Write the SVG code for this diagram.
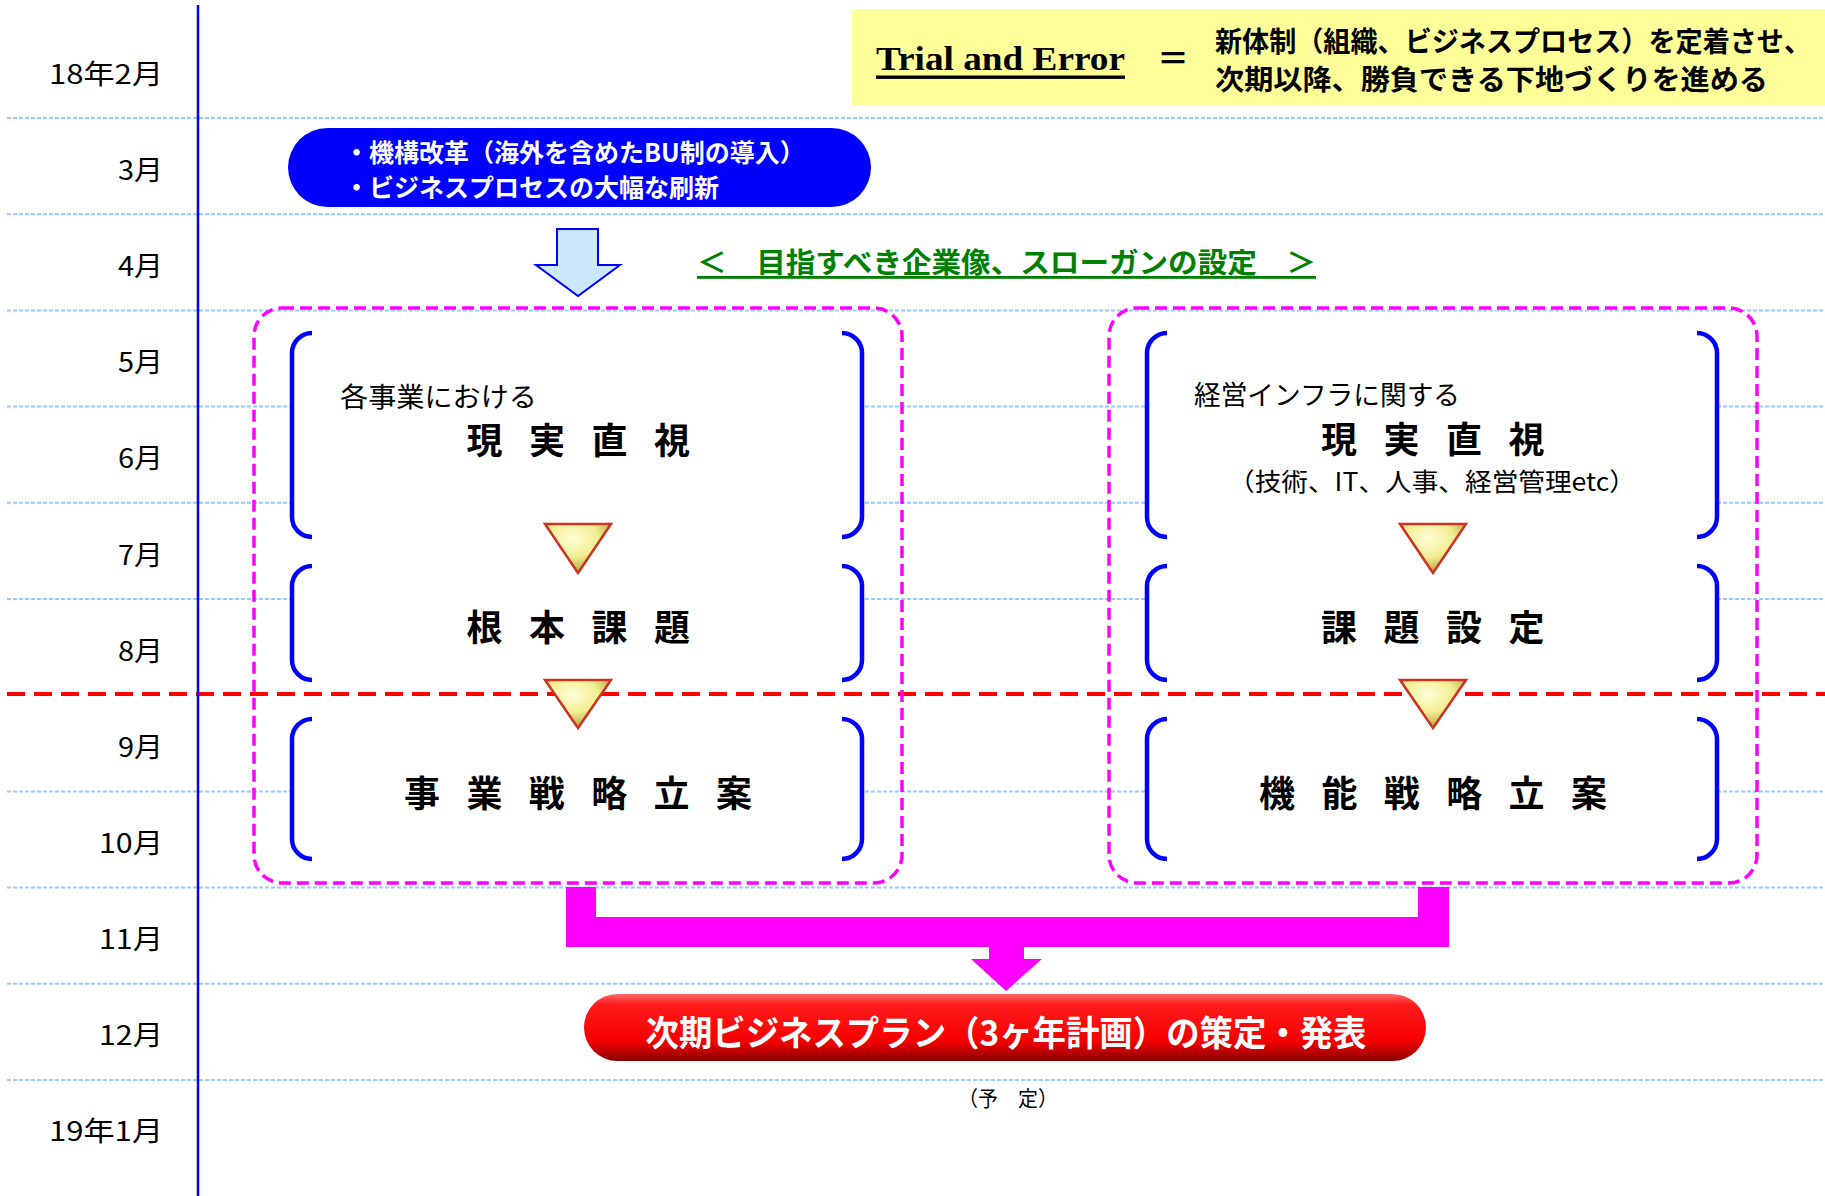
<svg xmlns="http://www.w3.org/2000/svg" width="1825" height="1196" viewBox="0 0 1825 1196">
<defs>
<style>
.grid{stroke:#99c9f4;stroke-width:2;stroke-dasharray:4 2;fill:none}
.month{font-family:"Noto Sans CJK JP",sans-serif;font-size:27px;fill:#000;text-anchor:end;dominant-baseline:central}
.jp{font-family:"Noto Sans CJK JP",sans-serif;dominant-baseline:central}
.big{font-family:"Noto Sans CJK JP",sans-serif;font-size:36px;font-weight:700;fill:#000;text-anchor:middle;dominant-baseline:central}
.panel{fill:none;stroke:#ff00ff;stroke-width:3.5;stroke-dasharray:12 6}
.bracket{fill:none;stroke:#0000ff;stroke-width:4.5}
.inner{fill:#fff;stroke:none}
.tri{fill:url(#triGrad);stroke:#cc3322;stroke-width:2.5;stroke-linejoin:miter}
</style>
<radialGradient id="triGrad" cx="0.42" cy="0.3" r="0.75">
<stop offset="0" stop-color="#ffffd8"/>
<stop offset="0.5" stop-color="#f2ee92"/>
<stop offset="1" stop-color="#a89a30"/>
</radialGradient>
<linearGradient id="redGrad" x1="0" y1="0" x2="0" y2="1">
<stop offset="0" stop-color="#ff6a6a"/>
<stop offset="0.15" stop-color="#ff1c1c"/>
<stop offset="0.7" stop-color="#f50000"/>
<stop offset="1" stop-color="#8a0000"/>
</linearGradient>
</defs>
<rect width="1825" height="1196" fill="#fff"/>

<g id="grid">
<line class="grid" x1="7" y1="118" x2="1825" y2="118"/>
<line class="grid" x1="7" y1="214.2" x2="1825" y2="214.2"/>
<line class="grid" x1="7" y1="310.4" x2="1825" y2="310.4"/>
<line class="grid" x1="7" y1="406.6" x2="1825" y2="406.6"/>
<line class="grid" x1="7" y1="502.8" x2="1825" y2="502.8"/>
<line class="grid" x1="7" y1="599" x2="1825" y2="599"/>
<line class="grid" x1="7" y1="791.4" x2="1825" y2="791.4"/>
<line class="grid" x1="7" y1="887.6" x2="1825" y2="887.6"/>
<line class="grid" x1="7" y1="983.8" x2="1825" y2="983.8"/>
<line class="grid" x1="7" y1="1080" x2="1825" y2="1080"/>
<line x1="7" y1="694" x2="1825" y2="694" stroke="#ff0000" stroke-width="4" stroke-dasharray="18 9"/>
<line x1="198" y1="5" x2="198" y2="1196" stroke="#0000ff" stroke-width="2.5"/>
</g>

<g id="months">
<text class="month" x="163" y="72" textLength="114" lengthAdjust="spacingAndGlyphs">18年2月</text>
<text class="month" x="163" y="168" textLength="45" lengthAdjust="spacingAndGlyphs">3月</text>
<text class="month" x="163" y="264" textLength="45" lengthAdjust="spacingAndGlyphs">4月</text>
<text class="month" x="163" y="360" textLength="45" lengthAdjust="spacingAndGlyphs">5月</text>
<text class="month" x="163" y="456" textLength="45" lengthAdjust="spacingAndGlyphs">6月</text>
<text class="month" x="163" y="553" textLength="45" lengthAdjust="spacingAndGlyphs">7月</text>
<text class="month" x="163" y="649" textLength="45" lengthAdjust="spacingAndGlyphs">8月</text>
<text class="month" x="163" y="745" textLength="45" lengthAdjust="spacingAndGlyphs">9月</text>
<text class="month" x="163" y="841" textLength="64" lengthAdjust="spacingAndGlyphs">10月</text>
<text class="month" x="163" y="937" textLength="64" lengthAdjust="spacingAndGlyphs">11月</text>
<text class="month" x="163" y="1033" textLength="64" lengthAdjust="spacingAndGlyphs">12月</text>
<text class="month" x="163" y="1129" textLength="114" lengthAdjust="spacingAndGlyphs">19年1月</text>
</g>

<g id="header">
<rect x="852" y="9" width="973" height="96" fill="#ffff99"/>
<text x="876" y="58" font-family="'Liberation Serif',serif" font-size="34" font-weight="700" text-decoration="underline" textLength="249" lengthAdjust="spacingAndGlyphs" dominant-baseline="central">Trial and Error</text>
<text class="jp" x="1173" y="56" font-size="32" font-weight="700" text-anchor="middle">＝</text>
<text class="jp" x="1215" y="40" font-size="28" font-weight="700" textLength="596" lengthAdjust="spacingAndGlyphs">新体制（組織、ビジネスプロセス）を定着させ、</text>
<text class="jp" x="1215" y="78" font-size="28" font-weight="700" textLength="553" lengthAdjust="spacingAndGlyphs">次期以降、勝負できる下地づくりを進める</text>
</g>

<g id="reform">
<rect x="288" y="128" width="583" height="79" rx="39.5" fill="#0000ff"/>
<text class="jp" x="344" y="151" font-size="25" font-weight="700" fill="#fff">・機構改革（海外を含めたBU制の導入）</text>
<text class="jp" x="344" y="186" font-size="25" font-weight="700" fill="#fff">・ビジネスプロセスの大幅な刷新</text>
</g>

<g id="down-arrow">
<polygon points="557,229 598,229 598,265 620,265 578,296 536,265 557,265" fill="#cce8ff" stroke="#0000ff" stroke-width="2"/>
</g>

<g id="slogan">
<text class="jp" x="697" y="261" font-size="28" font-weight="700" fill="#008000" text-decoration="underline" textLength="619" lengthAdjust="spacingAndGlyphs">＜　目指すべき企業像、スローガンの設定　＞</text>
</g>

<g id="left-panel">
<rect class="panel" x="254" y="308" width="648" height="575" rx="28"/>
<g id="left-reality">
<rect class="inner" x="292" y="333" width="570" height="204"/>
<path class="bracket" d="M312,333 A20,20 0 0 0 292,353 V517 A20,20 0 0 0 312,537 M842,333 A20,20 0 0 1 862,353 V517 A20,20 0 0 1 842,537"/>
<text class="jp" x="340" y="395" font-size="27" textLength="197" lengthAdjust="spacingAndGlyphs">各事業における</text>
<text class="big" x="484.5 547 609.5 672" y="438">現実直視</text>
</g>
<g id="left-issue">
<rect class="inner" x="292" y="566" width="570" height="114"/>
<path class="bracket" d="M312,566 A20,20 0 0 0 292,586 V660 A20,20 0 0 0 312,680 M842,566 A20,20 0 0 1 862,586 V660 A20,20 0 0 1 842,680"/>
<text class="big" x="484.5 547 609.5 672" y="625">根本課題</text>
</g>
<g id="left-strategy">
<rect class="inner" x="292" y="719" width="570" height="140"/>
<path class="bracket" d="M312,719 A20,20 0 0 0 292,739 V839 A20,20 0 0 0 312,859 M842,719 A20,20 0 0 1 862,739 V839 A20,20 0 0 1 842,859"/>
<text class="big" x="422 484.4 546.8 609.2 671.6 734" y="791">事業戦略立案</text>
</g>
<polygon class="tri" points="545,524 611,524 578,573"/>
<polygon class="tri" points="545,680 611,680 578,728"/>
</g>

<g id="right-panel">
<rect class="panel" x="1109" y="308" width="648" height="575" rx="28"/>
<g id="right-reality">
<rect class="inner" x="1147" y="333" width="570" height="204"/>
<path class="bracket" d="M1167,333 A20,20 0 0 0 1147,353 V517 A20,20 0 0 0 1167,537 M1697,333 A20,20 0 0 1 1717,353 V517 A20,20 0 0 1 1697,537"/>
<text class="jp" x="1194" y="393" font-size="27" textLength="266" lengthAdjust="spacingAndGlyphs">経営インフラに関する</text>
<text class="big" x="1339 1401.5 1464 1526.5" y="437">現実直視</text>
<text class="jp" x="1432" y="480" font-size="25" text-anchor="middle" textLength="408" lengthAdjust="spacingAndGlyphs">（技術、IT、人事、経営管理etc）</text>
</g>
<g id="right-issue">
<rect class="inner" x="1147" y="566" width="570" height="114"/>
<path class="bracket" d="M1167,566 A20,20 0 0 0 1147,586 V660 A20,20 0 0 0 1167,680 M1697,566 A20,20 0 0 1 1717,586 V660 A20,20 0 0 1 1697,680"/>
<text class="big" x="1339 1401.5 1464 1526.5" y="625">課題設定</text>
</g>
<g id="right-strategy">
<rect class="inner" x="1147" y="719" width="570" height="140"/>
<path class="bracket" d="M1167,719 A20,20 0 0 0 1147,739 V839 A20,20 0 0 0 1167,859 M1697,719 A20,20 0 0 1 1717,739 V839 A20,20 0 0 1 1697,859"/>
<text class="big" x="1277 1339.4 1401.8 1464.2 1526.6 1589" y="791">機能戦略立案</text>
</g>
<polygon class="tri" points="1400,524 1466,524 1433,573"/>
<polygon class="tri" points="1400,680 1466,680 1433,728"/>
</g>

<g id="connectors">
<path d="M566,887 H596 V917 H1418 V887 H1449 V947 H1024 V959 H1042 L1006,991 L971,959 H989 V947 H566 Z" fill="#ff00ff"/>
</g>

<g id="plan">
<rect x="584" y="994" width="842" height="67" rx="33.5" fill="url(#redGrad)"/>
<text class="jp" x="1006" y="1030" font-size="35" font-weight="700" fill="#fff" text-anchor="middle" textLength="721" lengthAdjust="spacingAndGlyphs">次期ビジネスプラン（3ヶ年計画）の策定・発表</text>
</g>

<g id="note">
<text class="jp" x="1008" y="1097" font-size="21" text-anchor="middle" textLength="100" lengthAdjust="spacingAndGlyphs">（予　定）</text>
</g>
</svg>
